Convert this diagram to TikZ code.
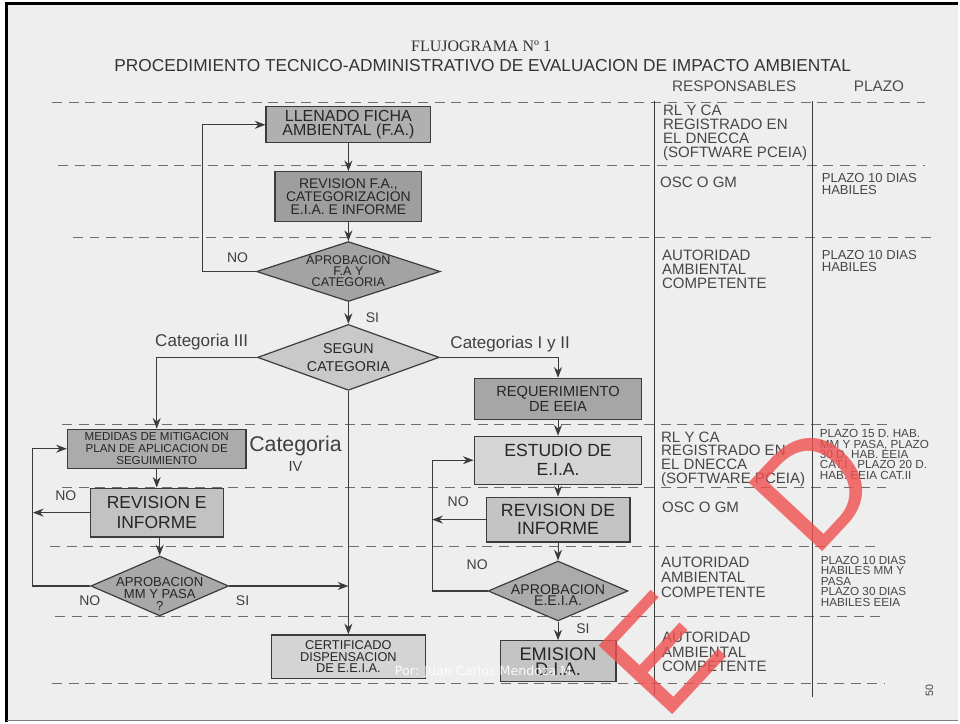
\documentclass[tikz,border=0pt]{standalone}
\usepackage{fontspec}
\setmainfont{Liberation Sans}
\newfontfamily\ttlfont{Liberation Serif}
\newfontfamily\wmfont{DejaVu Sans}
\usetikzlibrary{shapes.geometric,arrows.meta}
\newlength\px
\setlength\px{0.75pt}
\newcommand{\fsz}[2]{\fontsize{#1}{#2}\selectfont}
\definecolor{paper}{HTML}{EEEEEE}
\definecolor{ink}{HTML}{3C3C3C}
\definecolor{wmred}{HTML}{F05050}
\tikzset{
	box/.style={rectangle,draw=ink,line width=0.9pt,inner sep=0pt,align=center,text=black!85},
	dec/.style={diamond,draw=ink,line width=0.9pt,inner sep=0pt},
	dectxt/.style={inner sep=0pt,align=center,text=black!85},
	flow/.style={draw=ink,line width=0.8pt,-{Stealth[length=8pt,width=6pt]}},
	sepline/.style={draw=gray!85!black,line width=0.7pt,dash pattern=on 7.5pt off 5pt},
	lbl/.style={text=black!75,inner sep=0pt},
	col/.style={anchor=north west,align=left,inner sep=0pt,text=black!72},
	stamp/.style={inner sep=0pt,font=\fsz{110}{110},text=wmred,opacity=0.8,rotate=47},
}
\begin{document}
\begin{tikzpicture}[x=0.75pt,y=-0.75pt]
	% page
	\fill[white] (0,0) rectangle (960,723);
	\fill[paper] (6,3) rectangle (960,721);
	\draw[line width=2.5pt] (6.5,723) -- (6.5,3.5) -- (960,3.5);
	\draw[gray,line width=1pt] (7,721.5) -- (960,721.5);
	\useasboundingbox (0,0) rectangle (960,723);
	
	% titles
	\node[anchor=base,font=\ttlfont\fsz{12}{12},text=black!80] (ttl) at (482,52) {FLUJOGRAMA Nº 1};
	\node[anchor=base,font=\fsz{13}{13},text=black!80] (sub) at (483.5,72) {PROCEDIMIENTO TECNICO-ADMINISTRATIVO DE EVALUACION DE IMPACTO AMBIENTAL};
	\node[anchor=base,font=\fsz{11.5}{12},text=black!70] (hresp) at (735.5,92) {RESPONSABLES};
	\node[anchor=base,font=\fsz{11.5}{12},text=black!70] (hplazo) at (880.5,92) {PLAZO};
	
	% rows and columns
	\draw[sepline] (52,103) -- (927,103);
	\draw[sepline] (58,166) -- (927,166);
	\draw[sepline] (73,238) -- (937,238);
	\draw[sepline] (62,425) -- (893,425);
	\draw[sepline] (62,488) -- (888,488);
	\draw[sepline] (50,547) -- (883,547);
	\draw[sepline] (55,618) -- (888,618);
	\draw[sepline] (52,685) -- (887,685);
	\draw[draw=ink,line width=0.7pt] (656,101) -- (656,696);
	\draw[draw=ink,line width=0.7pt] (814,101) -- (814,698);
	
	% flow nodes
	\node[box,fill=gray!62,minimum width=165\px,minimum height=36\px,font=\fsz{12}{10.5}] (fa) at (349,125) {LLENADO FICHA\\AMBIENTAL (F.A.)};
	\node[box,fill=gray!76,minimum width=147\px,minimum height=50\px,font=\fsz{10.5}{10}] (rev) at (349,197) {REVISION F.A.,\\CATEGORIZACION\\E.I.A. E INFORME};
	\node[dec,fill=gray!72,minimum width=184\px,minimum height=60\px] (apfa) at (349,272) {};
	\node[dectxt,font=\fsz{9.5}{8.2}] (apfatxt) at (apfa) {APROBACION\\F.A Y\\CATEGORIA};
	\node[dec,fill=gray!42,minimum width=182\px,minimum height=66\px] (seg) at (349,358) {};
	\node[dectxt,font=\fsz{10.7}{13.5}] (segtxt) at (seg) {SEGUN\\CATEGORIA};
	\node[box,fill=gray!66,minimum width=179\px,minimum height=39\px,font=\fsz{8.7}{8.8}] (mm) at (157,449.5) {MEDIDAS DE MITIGACION\\PLAN DE APLICACION DE\\SEGUIMIENTO};
	\node[box,fill=gray!48,minimum width=133\px,minimum height=49\px,font=\fsz{13.1}{15}] (revi) at (157,513.5) {REVISION E\\INFORME};
	\node[dec,fill=gray!68,minimum width=138\px,minimum height=60\px] (apmm) at (160,587) {};
	\node[dectxt,font=\fsz{9.8}{9}] (apmmtxt) at ([yshift=-6pt]apmm.center) {APROBACION\\MM Y PASA\\?};
	\node[box,fill=gray!34,minimum width=154\px,minimum height=44\px,font=\fsz{9.6}{8.6}] (cert) at (349,658) {CERTIFICADO\\DISPENSACION\\DE E.E.I.A.};
	\node[box,fill=gray!70,minimum width=167\px,minimum height=41\px,font=\fsz{11}{11}] (req) at (559,399.5) {REQUERIMIENTO\\DE EEIA};
	\node[box,fill=gray!33,minimum width=168\px,minimum height=48\px,font=\fsz{13.2}{14.5}] (est) at (559,461) {ESTUDIO DE\\E.I.A.};
	\node[box,fill=gray!46,minimum width=144\px,minimum height=45\px,font=\fsz{13.3}{13.5}] (revd) at (559,520.5) {REVISION DE\\INFORME};
	\node[dec,fill=gray!66,minimum width=140\px,minimum height=60\px] (apeia) at (559,592) {};
	\node[dectxt,font=\fsz{10.6}{8.5}] (apeiatxt) at ([yshift=-3pt]apeia.center) {APROBACION\\E.E.I.A.};
	\node[box,fill=gray!46,minimum width=116\px,minimum height=41\px,font=\fsz{13.7}{11.5}] (dia) at (559,662.5) {EMISION\\D.I.A.};
	
	% loop turning points
	\coordinate (loopA) at (203,0);
	\coordinate (loopB) at (33,0);
	\coordinate (loopC) at (433,0);
	
	% connectors
	\draw[flow] (fa) -- (rev);
	\draw[flow] (rev) -- (apfa);
	\draw[flow] (apfa) -- (seg);
	\draw[flow] (apfa.west) -- (apfa.west -| loopA) |- (fa.west);
	\draw[flow] (seg.west) -| (mm.north);
	\draw[flow] (seg.east) -| (req.north);
	\draw[flow] (seg) -- (cert);
	\draw[flow] (mm) -- (revi.north -| mm);
	\draw[flow] (revi.south -| apmm) -- (apmm);
	\draw[flow] (revi.west) -- (revi.west -| loopB);
	\draw[flow] (apmm.west) -- (apmm.west -| loopB) |- (mm.west);
	\draw[flow] (apmm.east) -- (apmm.east -| cert.north);
	\draw[flow] (req) -- (est);
	\draw[flow] (est) -- (revd);
	\draw[flow] (revd) -- (apeia);
	\draw[flow] (revd.west) -- (revd.west -| loopC);
	\draw[flow] (apeia.west) -- (apeia.west -| loopC) |- (est.west);
	\draw[flow] (apeia) -- (dia);
	
	% branch labels
	\node[lbl,font=\fsz{10.5}{11}] (no1) at (238,258) {NO};
	\node[lbl,font=\fsz{10.5}{11}] (si1) at (373,318) {SI};
	\node[lbl,font=\fsz{12.8}{13}] (cat3) at (202,343) {Categoria III};
	\node[lbl,font=\fsz{12.8}{13}] (cat12) at (511,345) {Categorias I y II};
	\node[lbl,font=\fsz{16}{16}] (cat4) at (296,447) {Categoria};
	\node[lbl,font=\fsz{11}{11}] (cat4b) at (296,467) {IV};
	\node[lbl,font=\fsz{10.5}{11}] (no2) at (66,497) {NO};
	\node[lbl,font=\fsz{10.5}{11}] (no3) at (90,602) {NO};
	\node[lbl,font=\fsz{10.5}{11}] (si2) at (243,602) {SI};
	\node[lbl,font=\fsz{10.5}{11}] (no4) at (459,503) {NO};
	\node[lbl,font=\fsz{10.5}{11}] (no5) at (478,566) {NO};
	\node[lbl,font=\fsz{10.5}{11}] (si3) at (584,630) {SI};
	
	% responsables
	\node[col,font=\fsz{11.3}{10.5}] (resp1) at (664,105) {RL Y CA\\REGISTRADO EN\\EL DNECCA\\(SOFTWARE PCEIA)};
	\node[col,font=\fsz{11.3}{10.5}] (resp2) at (661,177) {OSC O GM};
	\node[col,font=\fsz{11.3}{10.5}] (resp3) at (663,250) {AUTORIDAD\\AMBIENTAL\\COMPETENTE};
	\node[col,font=\fsz{11.3}{10.5}] (resp4) at (662,432) {RL Y CA\\REGISTRADO EN\\EL DNECCA\\(SOFTWARE PCEIA)};
	\node[col,font=\fsz{11.3}{10.5}] (resp5) at (663,503) {OSC O GM};
	\node[col,font=\fsz{11.3}{11}] (resp6) at (662,558) {AUTORIDAD\\AMBIENTAL\\COMPETENTE};
	\node[col,font=\fsz{11.3}{11}] (resp7) at (663,633) {AUTORIDAD\\AMBIENTAL\\COMPETENTE};
	
	% plazos
	\node[col,font=\fsz{9.8}{9}] (plazo2) at (823,173) {PLAZO 10 DIAS\\HABILES};
	\node[col,font=\fsz{9.8}{9}] (plazo3) at (823,251) {PLAZO 10 DIAS\\HABILES};
	\node[col,font=\fsz{8.8}{7.8}] (plazo4) at (821,430) {PLAZO 15 D. HAB.\\MM Y PASA, PLAZO\\30 D. HAB. EEIA\\CAT.I , PLAZO 20 D.\\HAB. EEIA CAT.II};
	\node[col,font=\fsz{8.8}{7.8}] (plazo6) at (822,557) {PLAZO 10 DIAS\\HABILES MM Y\\PASA\\PLAZO 30 DIAS\\HABILES EEIA};
	
	% page number, credit and stamp
	\node[lbl,font=\fsz{8}{8},rotate=90] (pag) at (931,692) {50};
	\node[inner sep=0pt,font=\wmfont\fsz{9.5}{10},text=white,opacity=0.9] (por) at (486,673) {Por: Juan Carlos Mendoza M.};
	\node[stamp] (wmE) at (662,655) {E};
	\node[stamp] (wmD) at (815,488) {D};
\end{tikzpicture}
\end{document}
